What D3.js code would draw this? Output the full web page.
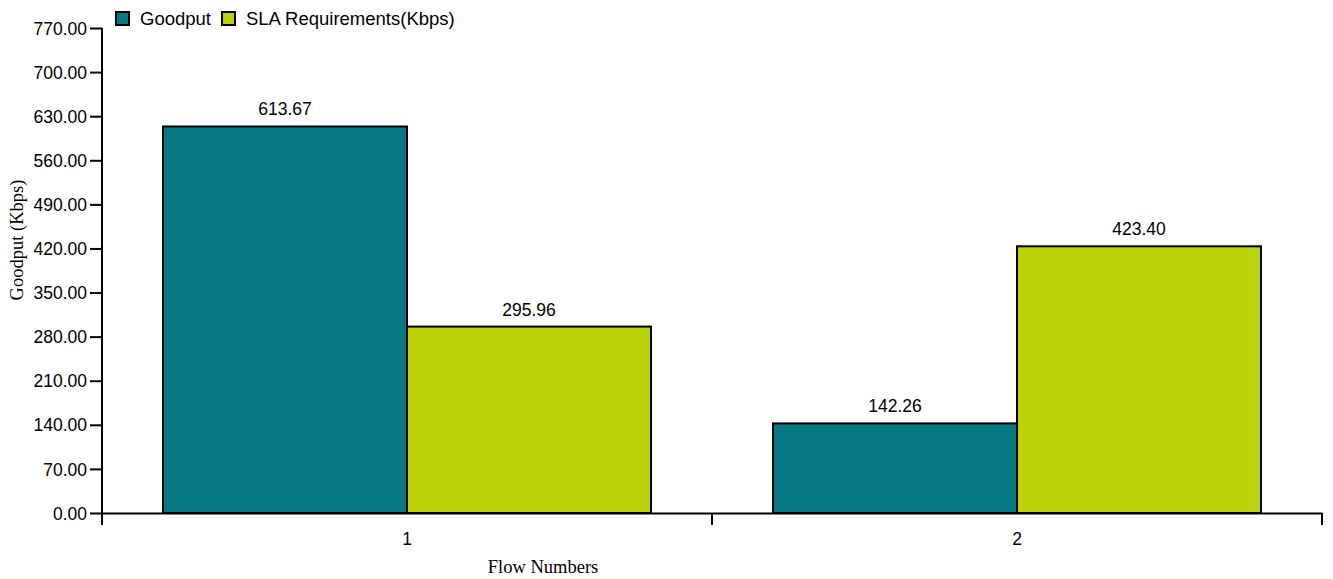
<!DOCTYPE html>
<html><head><meta charset="utf-8">
<script src="https://cdn.jsdelivr.net/npm/d3@7"></script>
<style>body{margin:0;background:#fff}svg{display:block}</style>
</head><body>
<svg id="c" width="1333" height="579"></svg>
<script>
const categories = ["1", "2"];
const seriesNames = ["Goodput", "SLA Requirements(Kbps)"];
const goodput = [613.67, 142.26];
const sla = [295.96, 423.40];
const yTicks = [0, 70, 140, 210, 280, 350, 420, 490, 560, 630, 700, 770];
const colors = ["#077783", "#bcd30b"];

const svg = d3.select("#c");
const m = {left: 102, right: 11, top: 28, bottom: 66};
const W = 1333, H = 579;
const SANS = "Liberation Sans, Arial, sans-serif";
const SERIF = "Liberation Serif, Times New Roman, serif";
const x0 = d3.scaleBand().domain(categories).range([m.left, W - m.right]).paddingInner(0).paddingOuter(0);
const x1 = d3.scaleBand().domain(seriesNames).range([0, x0.bandwidth()]).paddingInner(0).paddingOuter(0.25);
const y = d3.scaleLinear().domain([0, 770]).range([H - m.bottom, m.top]);

const data = categories.map((c, i) => ({cat: c, vals: [goodput[i], sla[i]]}));

const g = svg.append("g");
data.forEach(d => {
  d.vals.forEach((v, j) => {
    const bx = x0(d.cat) + x1(seriesNames[j]);
    g.append("rect")
      .attr("x", bx).attr("y", y(v))
      .attr("width", x1.bandwidth()).attr("height", y(0) - y(v))
      .attr("fill", colors[j]).attr("stroke", "#000").attr("stroke-width", 2);
    g.append("text")
      .attr("x", bx + x1.bandwidth() / 2).attr("y", y(v) - 11)
      .attr("text-anchor", "middle")
      .attr("font-family", SANS).attr("font-size", 17.5)
      .text(v.toFixed(2));
  });
});

// Y axis
const yAxis = svg.append("g").attr("transform", `translate(${m.left},0)`)
  .call(d3.axisLeft(y).tickValues(yTicks).tickFormat(d => d.toFixed(2)).tickSize(12).tickSizeOuter(0));
yAxis.select(".domain").attr("stroke-width", 2).attr("d", `M0,${y(770)}V${y(0) + 12}`);
yAxis.selectAll(".tick line").attr("stroke-width", 2);
yAxis.selectAll(".tick text").attr("font-family", SANS).attr("font-size", 17.5).attr("fill", "#000").attr("x", -15).attr("dy", "0.35em");

// X axis
const xAxis = svg.append("g").attr("transform", `translate(0,${y(0)})`)
  .call(d3.axisBottom(x0).tickSize(0).tickSizeOuter(0));
xAxis.select(".domain").attr("stroke-width", 2);
xAxis.selectAll(".tick text").attr("font-family", SANS).attr("font-size", 17.5).attr("fill", "#000").attr("y", 32).attr("dy", 0);
// band boundary ticks
const bounds = categories.map(c => x0(c)).concat([x0(categories[categories.length - 1]) + x0.bandwidth()]);
xAxis.selectAll(".bound").data(bounds).enter().append("line")
  .attr("x1", d => d).attr("x2", d => d).attr("y1", 0).attr("y2", 12)
  .attr("stroke", "#000").attr("stroke-width", 2);

// Axis titles
svg.append("text").attr("x", 543).attr("y", 573)
  .attr("text-anchor", "middle").attr("font-family", SERIF).attr("font-size", 18.5)
  .text("Flow Numbers");
svg.append("text").attr("transform", `translate(23,240) rotate(-90)`)
  .attr("text-anchor", "middle").attr("font-family", SERIF).attr("font-size", 18.5)
  .text("Goodput (Kbps)");

// Legend
const leg = svg.append("g");
let lx = 116;
seriesNames.forEach((n, j) => {
  leg.append("rect").attr("x", lx).attr("y", 12).attr("width", 13).attr("height", 13)
    .attr("fill", colors[j]).attr("stroke", "#000").attr("stroke-width", 2);
  const t = leg.append("text").attr("x", lx + 24).attr("y", 25)
    .attr("font-family", SANS).attr("font-size", 18.5).text(n);
  lx += 24 + t.node().getComputedTextLength() + 11;
});
</script>
</body></html>
